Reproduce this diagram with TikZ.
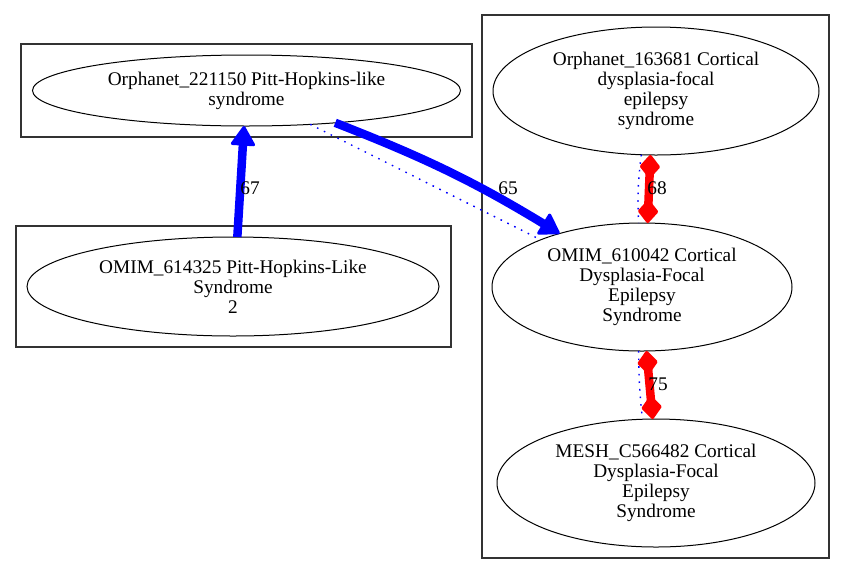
\documentclass[tikz,border=0pt]{standalone}
\usepackage{fontspec}
\setmainfont{Liberation Serif}
\usetikzlibrary{arrows.meta,shapes.geometric}
\begin{document}
\begin{tikzpicture}[x=1pt,y=-1pt,
  every node/.style={font=\fontsize{19.3}{20}\selectfont, outer sep=0pt},
  ell/.style={draw=black, line width=1pt, ellipse, inner sep=0pt, align=center},
  clus/.style={draw=black!80, line width=1.2pt, rectangle, inner sep=0pt},
  lbl/.style={inner sep=0pt},
  thickblue/.style={draw=blue, line width=8.5pt, -{Triangle[length=21pt,width=26pt,line width=3pt,round]}},
  dotblue/.style={draw=blue, line width=1.4pt, dash pattern=on 1.6pt off 6pt},
  redtip/.tip={Kite[length=25pt,width=21pt,inset=12.5pt,line width=3pt,round]},
  thickred/.style={draw=red, line width=8.5pt, {redtip}-{redtip}}
]
\useasboundingbox (0,0) rectangle (845,574);
% clusters
\node[clus, minimum width=451pt, minimum height=93pt] (c1) at (246.5,90.5) {};
\node[clus, minimum width=435pt, minimum height=121pt] (c2) at (233.5,286.5) {};
\node[clus, minimum width=347pt, minimum height=543pt] (c3) at (655.5,286.5) {};
% nodes
\node[ell, minimum width=428pt, minimum height=71pt] (A) at (246.5,90.5) {Orphanet\_221150 Pitt-Hopkins-like\\syndrome};
\node[ell, minimum width=412pt, minimum height=99pt] (B) at (233,286.5) {OMIM\_614325 Pitt-Hopkins-Like\\Syndrome\\2};
\node[ell, minimum width=326pt, minimum height=128pt] (T) at (656,91) {Orphanet\_163681 Cortical\\dysplasia-focal\\epilepsy\\syndrome};
\node[ell, minimum width=300pt, minimum height=128pt] (M) at (642,287) {OMIM\_610042 Cortical\\Dysplasia-Focal\\Epilepsy\\Syndrome};
\node[ell, minimum width=318pt, minimum height=128pt] (Bo) at (656,483) {MESH\_C566482 Cortical\\Dysplasia-Focal\\Epilepsy\\Syndrome};
% edges
\draw[dotblue] (A.332) -- (M.155);
\draw[thickblue] (B.85) -- (A.266);
\draw[thickblue] (A.340) to[bend left=5] (M.147);
\draw[dotblue] (T.257.6) to[bend right=5] (M.93.6);
\draw[thickred] (T.265.5) -- (M.85.5);
\draw[dotblue] (M.267.3) to[bend right=3] (Bo.102.3);
\draw[thickred] (M.274.5) -- (Bo.93.6);
% labels
\node[lbl] (l67) at (250,188) {67};
\node[lbl] (l65) at (508,188) {65};
\node[lbl] (l68) at (657,188) {68};
\node[lbl] (l75) at (658,384) {75};
\end{tikzpicture}
\end{document}
